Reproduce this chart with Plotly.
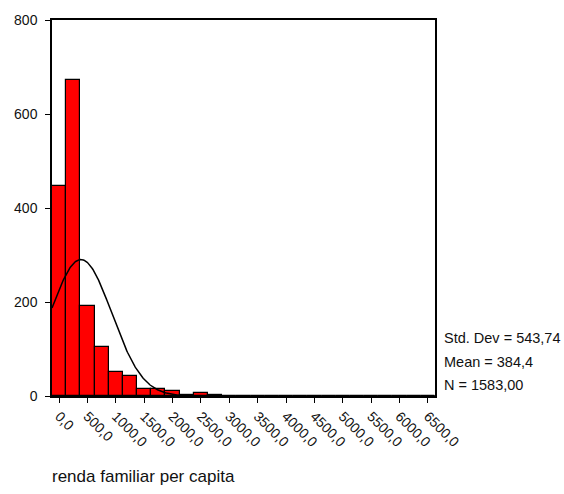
import numpy as np
import plotly.graph_objects as go

# Histogram of per-capita family income (bin width 250)
bin_centers = [0, 250, 500, 750, 1000, 1250, 1500, 1750, 2000, 2250, 2500, 2750,
               3000, 3250, 3500, 3750, 4000, 4250, 4500, 4750, 5000, 5250, 5500,
               5750, 6000, 6250, 6500]
counts = [447, 672, 191, 105, 52, 43, 15, 15, 11, 2, 7, 3,
          1, 1, 1, 0, 1, 0, 1, 0, 0, 1, 0, 0, 0, 1, 1]

tick_vals = [0, 500, 1000, 1500, 2000, 2500, 3000, 3500, 4000, 4500, 5000, 5500, 6000, 6500]
tick_text = ["0,0", "500,0", "1000,0", "1500,0", "2000,0", "2500,0", "3000,0",
             "3500,0", "4000,0", "4500,0", "5000,0", "5500,0", "6000,0", "6500,0"]

std_dev = 543.74
mean = 384.4
n_obs = 1583
bin_width = 250

# Normal curve scaled to the histogram counts
xc = np.linspace(-125, 6625, 600)
yc = n_obs * bin_width / (std_dev * np.sqrt(2 * np.pi)) * np.exp(-0.5 * ((xc - mean) / std_dev) ** 2)

family = "Arial, Liberation Sans, sans-serif"
tick_font = dict(family=family, size=14, color="#111111")
stat_font = dict(family=family, size=14.5, color="#111111")
title_font = dict(family=family, size=17, color="#111111")

fig = go.Figure()
fig.add_trace(go.Bar(
    x=bin_centers, y=counts, width=bin_width,
    marker=dict(color="#ff0000", line=dict(color="black", width=1.2)),
    showlegend=False,
))
fig.add_trace(go.Scatter(
    x=xc, y=yc, mode="lines",
    line=dict(color="black", width=1.5),
    showlegend=False,
))

stats = [("Std. Dev = 543,74", 337), ("Mean = 384,4", 361), ("N = 1583,00", 385)]
annotations = []
for text, py in stats:
    annotations.append(dict(
        text=text, xref="paper", yref="paper",
        x=(442 - 52) / 383, y=(396 - py) / 382,
        xanchor="left", yanchor="middle", showarrow=False, font=stat_font,
    ))
annotations.append(dict(
    text="renda familiar per capita", xref="paper", yref="paper",
    x=-0.004, y=(396 - 478) / 382, xanchor="left", yanchor="middle",
    showarrow=False, font=title_font,
))

fig.update_layout(
    width=564, height=494,
    margin=dict(l=52, r=129, t=14, b=98),
    paper_bgcolor="white", plot_bgcolor="white",
    bargap=0, font=tick_font,
    annotations=annotations,
)
fig.update_xaxes(
    range=[-125, 6625], tickmode="array", tickvals=tick_vals, ticktext=tick_text,
    tickangle=45, ticks="outside", ticklen=5, tickcolor="black",
    showline=True, linecolor="black", linewidth=1.5, mirror=True,
    showgrid=False, zeroline=False, tickfont=tick_font,
)
fig.update_yaxes(
    range=[0, 800], tickvals=[0, 200, 400, 600, 800],
    ticks="outside", ticklen=5, tickcolor="black", ticklabelstandoff=5,
    showline=True, linecolor="black", linewidth=1.5, mirror=True,
    showgrid=False, zeroline=False, tickfont=tick_font,
)

fig.write_html("out.html")
